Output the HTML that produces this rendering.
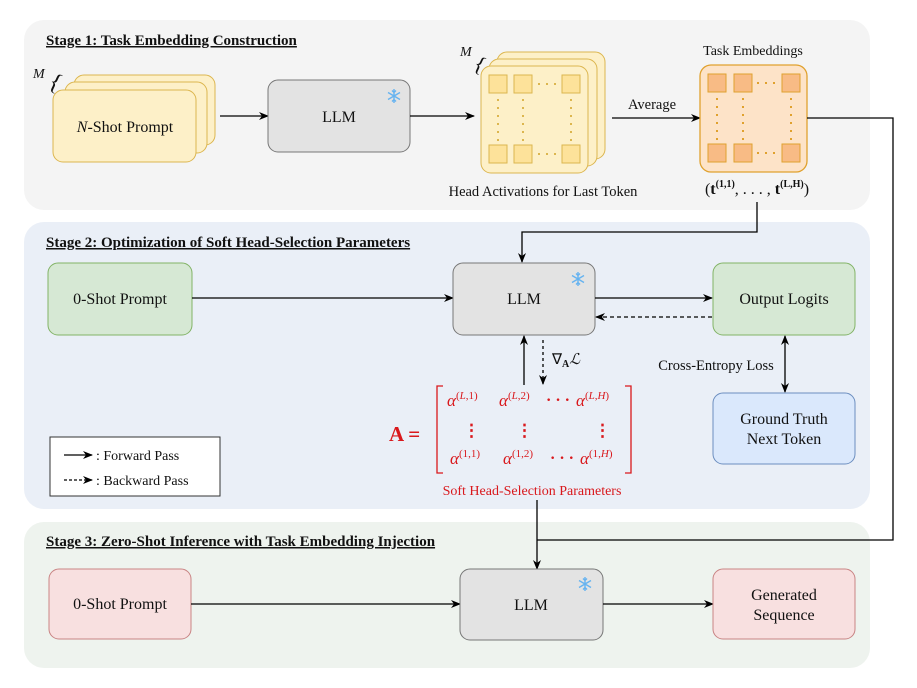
<!DOCTYPE html>
<html><head><meta charset="utf-8"><style>
html,body{margin:0;padding:0;background:#fff}
svg text{font-family:"Liberation Serif",serif;fill:#111}
</style></head><body>
<svg width="917" height="683" viewBox="0 0 917 683" xmlns="http://www.w3.org/2000/svg">
<defs>
<marker id="ah" markerWidth="10" markerHeight="10" refX="9" refY="5" orient="auto" markerUnits="userSpaceOnUse"><path d="M0,1 L10,5 L0,9 L3,5 Z" fill="#000"/></marker>
<marker id="ahs" markerWidth="10" markerHeight="10" refX="1" refY="5" orient="auto" markerUnits="userSpaceOnUse"><path d="M10,1 L0,5 L10,9 L7,5 Z" fill="#000"/></marker>
<g id="flake" stroke="#66b3f0" stroke-width="1.4" fill="none"><path d="M0,-7V7M-6,-3.5L6,3.5M-6,3.5L6,-3.5M-2,-5.5L0,-3.5L2,-5.5M-2,5.5L0,3.5L2,5.5"/></g>
</defs>
<rect x="24" y="20" width="846" height="190" rx="20" fill="#f4f4f4"/>
<rect x="24" y="222" width="846" height="287" rx="20" fill="#eaeff7"/>
<rect x="24" y="522" width="846" height="146" rx="20" fill="#eef3ee"/>
<text x="46" y="45" font-size="15" font-weight="bold" text-decoration="underline">Stage 1: Task Embedding Construction</text>
<text x="46" y="247" font-size="15" font-weight="bold" text-decoration="underline">Stage 2: Optimization of Soft Head-Selection Parameters</text>
<text x="46" y="546" font-size="15" font-weight="bold" text-decoration="underline">Stage 3: Zero-Shot Inference with Task Embedding Injection</text>

<text x="33" y="78" font-size="14" font-style="italic">M</text>
<text x="50" y="90" font-size="24" transform="rotate(25 56 82)">{</text>
<rect x="74" y="75" width="141" height="70" rx="10" fill="#fdf0c8" stroke="#dcb64f"/>
<rect x="65" y="82" width="142" height="71" rx="10" fill="#fdf0c8" stroke="#dcb64f"/>
<rect x="53" y="90" width="143" height="72" rx="10" fill="#fdf0c8" stroke="#dcb64f"/>
<text x="125" y="132" font-size="16" text-anchor="middle"><tspan font-style="italic">N</tspan>-Shot Prompt</text>
<line x1="220" y1="116" x2="268" y2="116" stroke="#000" stroke-width="1.3" marker-end="url(#ah)"/>
<rect x="268" y="80" width="142" height="72" rx="10" fill="#e3e3e3" stroke="#777"/>
<text x="339" y="122" font-size="16" text-anchor="middle">LLM</text>
<use href="#flake" x="394" y="96"/>
<line x1="410" y1="116" x2="474" y2="116" stroke="#000" stroke-width="1.3" marker-end="url(#ah)"/>

<text x="460" y="56" font-size="14" font-style="italic">M</text>
<text x="475" y="72" font-size="22" transform="rotate(25 481 64)">{</text>
<rect x="497" y="52" width="108" height="107" rx="10" fill="#fdf0c8" stroke="#dcb64f"/>
<rect x="489" y="59" width="108" height="107" rx="10" fill="#fdf0c8" stroke="#dcb64f"/>
<rect x="481" y="66" width="107" height="107" rx="10" fill="#fdf0c8" stroke="#dcb64f"/>
<g fill="#fde29a" stroke="#dcb64f">
<rect x="489" y="75" width="18" height="18"/><rect x="514" y="75" width="18" height="18"/><rect x="562" y="75" width="18" height="18"/>
<rect x="489" y="145" width="18" height="18"/><rect x="514" y="145" width="18" height="18"/><rect x="562" y="145" width="18" height="18"/>
</g>
<g stroke="#dcb64f" stroke-width="2" stroke-dasharray="2 6"><line x1="538" y1="84" x2="558" y2="84"/><line x1="538" y1="154" x2="558" y2="154"/><line x1="498" y1="99" x2="498" y2="142"/><line x1="523" y1="99" x2="523" y2="142"/><line x1="571" y1="99" x2="571" y2="142"/></g>
<text x="543" y="196" font-size="14.5" text-anchor="middle">Head Activations for Last Token</text>

<text x="652" y="109" font-size="14.5" text-anchor="middle">Average</text>
<line x1="612" y1="118" x2="700" y2="118" stroke="#000" stroke-width="1.3" marker-end="url(#ah)"/>
<text x="753" y="55" font-size="14" text-anchor="middle">Task Embeddings</text>
<rect x="700" y="65" width="107" height="107" rx="11" fill="#fde3c8" stroke="#e0a12e" stroke-width="1.3"/>
<g fill="#f8bb85" stroke="#e0a12e">
<rect x="708" y="74" width="18" height="18"/><rect x="734" y="74" width="18" height="18"/><rect x="782" y="74" width="18" height="18"/>
<rect x="708" y="144" width="18" height="18"/><rect x="734" y="144" width="18" height="18"/><rect x="782" y="144" width="18" height="18"/>
</g>
<g stroke="#e0a12e" stroke-width="2" stroke-dasharray="2 6"><line x1="757" y1="83" x2="778" y2="83"/><line x1="757" y1="153" x2="778" y2="153"/><line x1="717" y1="98" x2="717" y2="141"/><line x1="743" y1="98" x2="743" y2="141"/><line x1="791" y1="98" x2="791" y2="141"/></g>
<text x="757" y="194" font-size="16" text-anchor="middle">(<tspan font-weight="bold">t</tspan><tspan font-size="10" dy="-7" font-weight="bold">(1,1)</tspan><tspan dy="7">, . . . , </tspan><tspan font-weight="bold">t</tspan><tspan font-size="10" dy="-7" font-weight="bold">(L,H)</tspan><tspan dy="7">)</tspan></text>

<polyline points="807,118 893,118 893,540 537,540" fill="none" stroke="#000" stroke-width="1.3"/>
<polyline points="757,202 757,232 522,232 522,262" fill="none" stroke="#000" stroke-width="1.3" marker-end="url(#ah)"/>

<rect x="48" y="263" width="144" height="72" rx="10" fill="#d6e8d4" stroke="#82b366"/>
<text x="120" y="304" font-size="16" text-anchor="middle">0-Shot Prompt</text>
<line x1="192" y1="298" x2="453" y2="298" stroke="#000" stroke-width="1.3" marker-end="url(#ah)"/>
<rect x="453" y="263" width="142" height="72" rx="10" fill="#e3e3e3" stroke="#777"/>
<text x="524" y="304" font-size="16" text-anchor="middle">LLM</text>
<use href="#flake" x="578" y="279"/>
<line x1="595" y1="298" x2="712" y2="298" stroke="#000" stroke-width="1.3" marker-end="url(#ah)"/>
<line x1="712" y1="317" x2="596" y2="317" stroke="#000" stroke-width="1.3" stroke-dasharray="4 3" marker-end="url(#ah)"/>
<rect x="713" y="263" width="142" height="72" rx="10" fill="#d6e8d4" stroke="#82b366"/>
<text x="784" y="304" font-size="16" text-anchor="middle">Output Logits</text>
<line x1="785" y1="336" x2="785" y2="392" stroke="#000" stroke-width="1.3" marker-end="url(#ah)" marker-start="url(#ahs)"/>
<text x="716" y="370" font-size="14.5" text-anchor="middle">Cross-Entropy Loss</text>
<rect x="713" y="393" width="142" height="71" rx="10" fill="#dae8fc" stroke="#6c8ebf"/>
<text x="784" y="424" font-size="16" text-anchor="middle">Ground Truth</text>
<text x="784" y="444" font-size="16" text-anchor="middle">Next Token</text>

<line x1="524" y1="385" x2="524" y2="336" stroke="#000" stroke-width="1.3" marker-end="url(#ah)"/>
<line x1="543" y1="340" x2="543" y2="384" stroke="#000" stroke-width="1.3" stroke-dasharray="3 3" marker-end="url(#ah)"/>
<text x="552" y="364" font-size="15">∇<tspan font-size="10" dy="3" font-weight="bold">A</tspan><tspan dy="-3" font-style="italic">ℒ</tspan></text>

<text x="389" y="441" font-size="21" font-weight="bold" style="fill:#d9181c">A =</text>
<g font-size="17" font-style="italic">
<text x="447" y="406" style="fill:#d9181c">α<tspan font-size="11" dy="-7" font-style="normal">(</tspan><tspan font-size="11">L</tspan><tspan font-size="11" font-style="normal">,1)</tspan></text>
<text x="499" y="406" style="fill:#d9181c">α<tspan font-size="11" dy="-7" font-style="normal">(</tspan><tspan font-size="11">L</tspan><tspan font-size="11" font-style="normal">,2)</tspan></text>
<text x="576" y="406" style="fill:#d9181c">α<tspan font-size="11" dy="-7" font-style="normal">(</tspan><tspan font-size="11">L,H</tspan><tspan font-size="11" font-style="normal">)</tspan></text>
<text x="450" y="464" style="fill:#d9181c">α<tspan font-size="11" dy="-7" font-style="normal">(1,1)</tspan></text>
<text x="503" y="464" style="fill:#d9181c">α<tspan font-size="11" dy="-7" font-style="normal">(1,2)</tspan></text>
<text x="580" y="464" style="fill:#d9181c">α<tspan font-size="11" dy="-7" font-style="normal">(1,</tspan><tspan font-size="11">H</tspan><tspan font-size="11" font-style="normal">)</tspan></text>
</g>
<text x="546" y="405" font-size="16" font-weight="bold" style="fill:#d9181c">· · ·</text>
<text x="550" y="463" font-size="16" font-weight="bold" style="fill:#d9181c">· · ·</text>
<g font-size="17" font-weight="bold"><text x="463" y="436" style="fill:#d9181c">⋮</text><text x="516" y="436" style="fill:#d9181c">⋮</text><text x="594" y="436" style="fill:#d9181c">⋮</text></g>
<path d="M443,386 H437 V473 H443 M625,386 H631 V473 H625" fill="none" stroke="#d9181c" stroke-width="1.3"/>
<text x="532" y="495" font-size="14" text-anchor="middle" style="fill:#d9181c">Soft Head-Selection Parameters</text>
<line x1="537" y1="500" x2="537" y2="569" stroke="#000" stroke-width="1.3" marker-end="url(#ah)"/>

<rect x="50" y="437" width="170" height="59" fill="#fff" stroke="#333"/>
<line x1="64" y1="455" x2="92" y2="455" stroke="#000" stroke-width="1.3" marker-end="url(#ah)"/>
<text x="96" y="460" font-size="14">: Forward Pass</text>
<line x1="64" y1="480" x2="92" y2="480" stroke="#000" stroke-width="1.3" stroke-dasharray="3 2" marker-end="url(#ah)"/>
<text x="96" y="485" font-size="14">: Backward Pass</text>

<rect x="49" y="569" width="142" height="70" rx="10" fill="#f8e0e0" stroke="#c98484"/>
<text x="120" y="609" font-size="16" text-anchor="middle">0-Shot Prompt</text>
<line x1="191" y1="604" x2="460" y2="604" stroke="#000" stroke-width="1.3" marker-end="url(#ah)"/>
<rect x="460" y="569" width="143" height="71" rx="10" fill="#e3e3e3" stroke="#777"/>
<text x="531" y="610" font-size="16" text-anchor="middle">LLM</text>
<use href="#flake" x="585" y="584"/>
<line x1="603" y1="604" x2="713" y2="604" stroke="#000" stroke-width="1.3" marker-end="url(#ah)"/>
<rect x="713" y="569" width="142" height="70" rx="10" fill="#f8e0e0" stroke="#c98484"/>
<text x="784" y="600" font-size="16" text-anchor="middle">Generated</text>
<text x="784" y="620" font-size="16" text-anchor="middle">Sequence</text>
</svg>
</body></html>
